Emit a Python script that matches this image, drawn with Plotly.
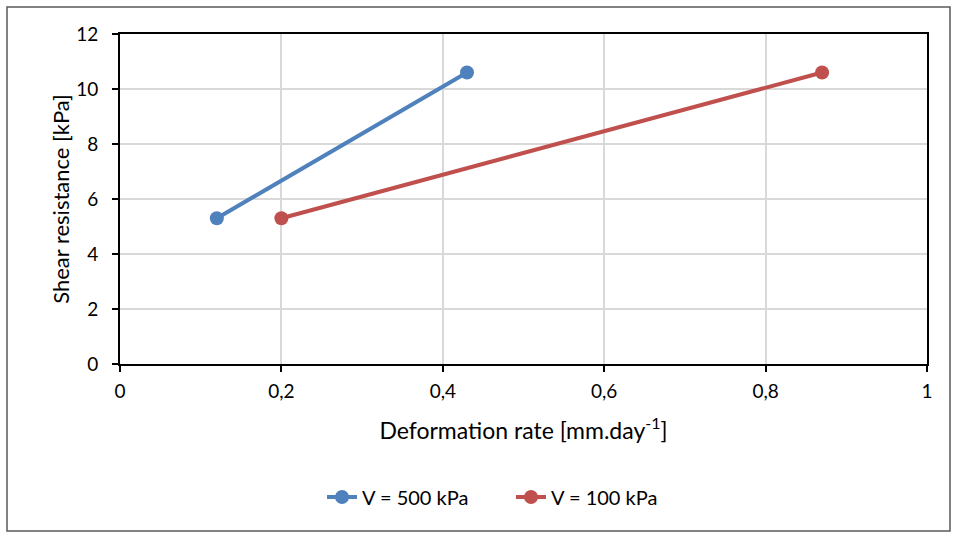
import plotly.graph_objects as go

series_names = ["V = 500 kPa", "V = 100 kPa"]
x_500 = [0.12, 0.43]
y_500 = [5.3, 10.6]
x_100 = [0.20, 0.87]
y_100 = [5.3, 10.6]
colors = ["#4f81bd", "#c0504d"]
x_ticks = [0, 0.2, 0.4, 0.6, 0.8, 1]
x_ticktext = ["0", "0,2", "0,4", "0,6", "0,8", "1"]

L, R, T, B = 120, 33, 34, 169
W, H = 960, 533
pw, ph = W - L - R, H - T - B

fig = go.Figure()
for name, xs, ys, c in [(series_names[0], x_500, y_500, colors[0]),
                        (series_names[1], x_100, y_100, colors[1])]:
    fig.add_trace(go.Scatter(x=xs, y=ys, name=name, mode="lines+markers",
                             line=dict(color=c, width=4),
                             marker=dict(color=c, size=14)))

font = dict(family="Lato, Carlito, 'Liberation Sans', sans-serif", color="#000000", size=19)

fig.update_layout(
    width=W, height=H,
    margin=dict(l=L, r=R, t=T, b=B),
    paper_bgcolor="white", plot_bgcolor="white",
    separators=", ",
    font=font,
    showlegend=True,
    legend=dict(orientation="h", x=(322 - L) / pw, xanchor="left",
                y=(T + ph - 497) / ph, yanchor="middle",
                entrywidth=144, entrywidthmode="pixels",
                font=dict(size=20)),
    xaxis=dict(range=[0, 1], tickvals=x_ticks, ticktext=x_ticktext,
               showgrid=True, gridcolor="#d9d9d9", gridwidth=2,
               showline=True, linecolor="black", linewidth=2, mirror=True,
               ticks="outside", ticklen=6, tickcolor="black", tickwidth=2,
               zeroline=False, ticklabelstandoff=3,
               title=dict(text="Deformation rate [mm.day<sup>-1</sup>]",
                          font=dict(size=23), standoff=22)),
    yaxis=dict(range=[0, 12], dtick=2,
               showgrid=True, gridcolor="#d9d9d9", gridwidth=2,
               showline=True, linecolor="black", linewidth=2, mirror=True,
               ticks="outside", ticklen=6, tickcolor="black", tickwidth=2,
               zeroline=False, ticklabelstandoff=10,
               title=dict(text="Shear resistance [kPa]",
                          font=dict(size=22), standoff=0)),
)

# outer chart border
fig.add_shape(type="rect", xref="paper", yref="paper",
              x0=(7 - L) / pw, x1=(950 - L) / pw,
              y0=(T + ph - 531) / ph, y1=(T + ph - 7) / ph,
              line=dict(color="#595959", width=1.5), fillcolor="rgba(0,0,0,0)",
              layer="below")

fig.write_html("out.html", config={"displayModeBar": False},
               post_script="document.body.style.margin='0';document.body.style.overflow='hidden';")
